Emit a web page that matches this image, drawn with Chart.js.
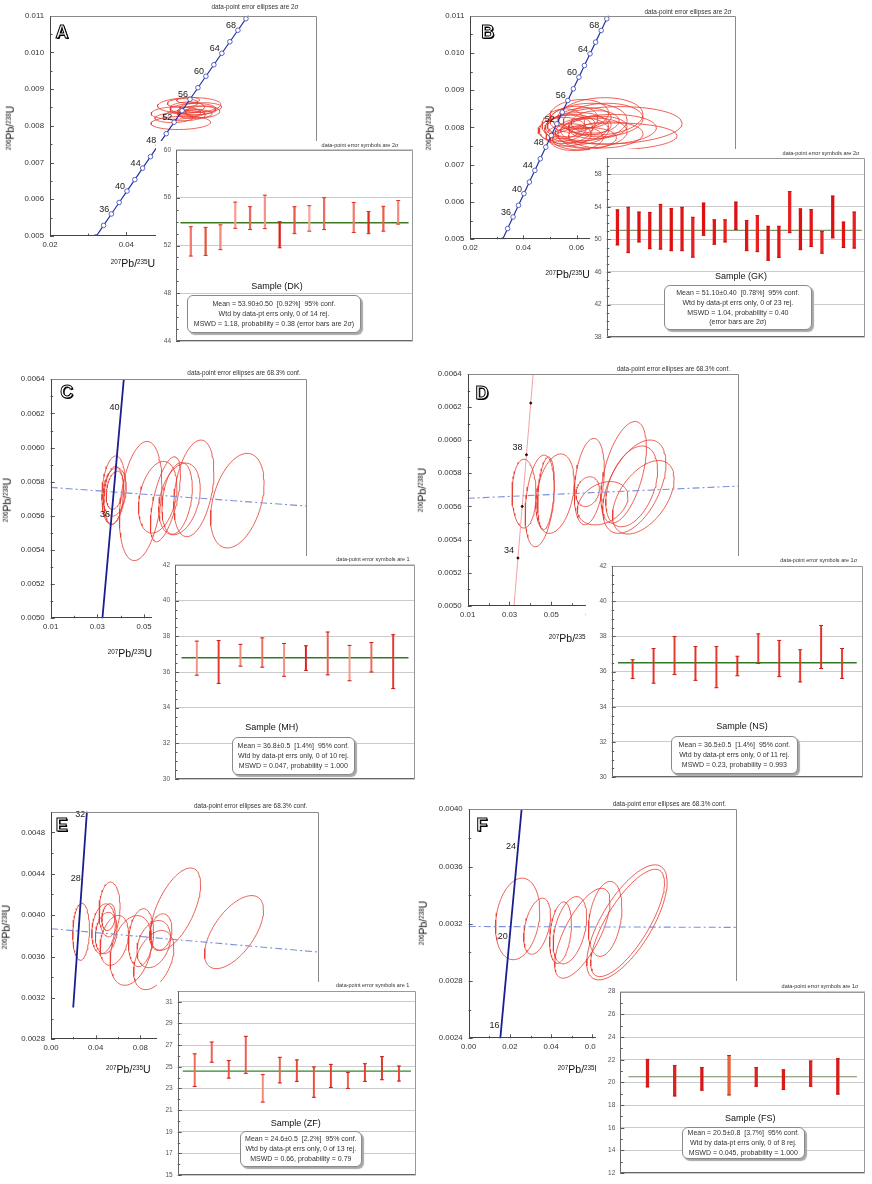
<!DOCTYPE html>
<html>
<head>
<meta charset="utf-8">
<script src="https://cdn.jsdelivr.net/npm/chart.js@4.4.1/dist/chart.umd.min.js"></script>
<style>
body{margin:0;background:#fff;width:872px;height:1184px;position:relative;overflow:hidden;font-family:"Liberation Sans",Arial,sans-serif;}
.t{position:absolute;white-space:nowrap;transform:translate(-50%,-50%);line-height:1;color:#222;}
.note{font-size:6.4px;color:#333;}
.inote{font-size:5.5px;color:#333;}
.lbl{font-size:10.5px;color:#111;}
.lbl sup{font-size:60%;vertical-align:0.5em;line-height:0;}
.rot{transform:translate(-50%,-50%) rotate(-90deg);}
.letter{font-size:18px;font-weight:bold;color:#fff;-webkit-text-stroke:1px #000;text-shadow:1px 1px 0 #000;}
.samp{font-size:9px;color:#111;}
.inset{position:absolute;background:#fff;}
.stats{position:absolute;border:1px solid #8a8a8a;border-radius:6px;background:#fff;box-shadow:2px 2px 1px #a8a8a8;font-size:7px;color:#333;display:flex;flex-direction:column;justify-content:center;align-items:center;line-height:1.4;box-sizing:border-box;white-space:pre;}
</style>
</head>
<body>
<script>
// ---------- concordia ages (Ma) ----------
var concAgesAB = [30,32,34,36,38,40,42,44,46,48,50,52,54,56,58,60,62,64,66,68,70,72];
var concLabelsAB = [36,40,44,48,52,56,60,64,68];
var concAgesCD = [30,32,34,36,38,40,42,44,46];
var concLabelsC = [36,40];
var concMarksD = [34,36,38,40];
var concLabelsD = [34,38];
var concAgesE = [20,22,24,26,28,30,32,34,36];
var concLabelsE = [28,32];
var concAgesF = [12,14,16,18,20,22,24,26,28];
var concLabelsF = [16,20,24];

// ---------- A (DK): error ellipses ----------
var aCx = [0.0543,0.0565,0.0530,0.0575,0.0560,0.0585,0.0552,0.0595,0.0548,0.0570,0.0525,0.0600,0.0562,0.0580];
var aCy = [0.00808,0.00856,0.00835,0.00845,0.00850,0.00842,0.00828,0.00850,0.00862,0.00835,0.00822,0.00838,0.00870,0.00832];
var aSx = [0.0078,0.0083,0.0065,0.0060,0.0045,0.0050,0.0055,0.0055,0.0040,0.0035,0.0050,0.0045,0.0030,0.0045];
var aSy = [0.00018,0.00021,0.00017,0.00016,0.00015,0.00012,0.00014,0.00013,0.00012,0.00011,0.00013,0.00016,0.00008,0.00012];
var aRho = [0.1,0.1,0.1,0.1,0.1,0.1,0.1,0.1,0.1,0.1,0.1,0.1,0.1,0.1];
var aHi = [53.57,53.52,53.73,55.63,55.25,56.21,54.00,55.25,55.33,56.00,null,55.60,54.85,55.28,55.76];
var aLo = [51.12,51.17,51.65,53.44,53.33,53.41,51.81,52.99,53.20,53.33,null,53.09,52.99,53.20,53.79];
var aMean = 53.90;

// ---------- B (GK) ----------
var bCx = [0.0740,0.0739,0.0640,0.0600,0.0620,0.0580,0.0660,0.0560,0.0700,0.0680,0.0590,0.0630,0.0550,0.0720,0.0610,0.0650,0.0570,0.0690,0.0600,0.0670,0.0545,0.0710,0.0630];
var bCy = [0.00806,0.00776,0.00815,0.00800,0.00790,0.00805,0.00785,0.00795,0.00820,0.00800,0.00822,0.00770,0.00810,0.00795,0.00835,0.00805,0.00780,0.00830,0.00770,0.00815,0.00795,0.00780,0.00825];
var bSx = [0.0257,0.0239,0.0150,0.0120,0.0100,0.0090,0.0130,0.0100,0.0150,0.0110,0.0090,0.0120,0.0080,0.0180,0.0110,0.0080,0.0085,0.0160,0.0100,0.0090,0.0090,0.0140,0.0100];
var bSy = [0.00050,0.00036,0.00050,0.00040,0.00035,0.00030,0.00040,0.00038,0.00045,0.00030,0.00035,0.00030,0.00040,0.00040,0.00040,0.00025,0.00030,0.00050,0.00032,0.00030,0.00032,0.00035,0.00028];
var bRho = [0.1,0.05,0.1,0.1,0.1,0.1,0.1,0.1,0.1,0.1,0.1,0.1,0.1,0.1,0.1,0.1,0.1,0.1,0.1,0.1,0.1,0.1,0.1];
var bHi = [53.62,53.94,53.35,53.31,54.29,53.78,53.94,52.71,54.45,52.40,52.40,54.57,52.32,52.91,51.61,51.61,55.87,53.74,53.66,50.98,55.32,52.12,53.35];
var bLo = [49.32,48.37,49.68,48.85,48.81,48.61,48.61,47.82,50.50,49.40,49.68,51.21,48.61,48.49,47.43,47.78,50.82,48.73,49.12,48.30,50.19,49.00,48.93];
var bMean = 51.10;

// ---------- C (MH) ----------
var cCx = [0.03695,0.0374,0.0375,0.0370,0.04857,0.05588,0.05918,0.0642,0.0652,0.07136,0.0900];
var cCy = [0.00575,0.00574,0.00575,0.00572,0.005687,0.005709,0.005697,0.005703,0.005699,0.005761,0.005689];
var cSx = [0.0050,0.0050,0.0037,0.0042,0.0091,0.00824,0.00645,0.0065,0.0089,0.0086,0.01147];
var cSy = [0.000201,0.000142,0.000112,0.00017,0.000349,0.00021,0.000249,0.00021,0.00021,0.000283,0.000277];
var cRho = [0.2,0.2,0.3,0.2,0.3,0.3,0.6,0.3,0.3,0.35,0.37];
var cLineX = [0.01, 0.12];
var cLineY = [0.005767, 0.005657];
var cHi = [37.73,37.76,37.55,37.91,37.60,37.47,38.24,37.49,37.65,38.09];
var cLo = [35.82,35.36,36.33,36.27,35.76,36.09,35.84,35.51,36.00,35.07];
var cMean = 36.8;

// ---------- D (NS) ----------
var dCx = [0.03695,0.04445,0.05179,0.04748,0.06821,0.06742,0.0746,0.08464,0.08974,0.08847,0.09405];
var dCy = [0.005677,0.005633,0.005677,0.005679,0.00575,0.005689,0.005619,0.005806,0.005719,0.005721,0.005655];
var dSx = [0.00574,0.00694,0.00917,0.0040,0.00718,0.0056,0.0121,0.0109,0.01515,0.0124,0.01475];
var dSy = [0.000208,0.000277,0.00024,0.00022,0.000261,0.00009,0.000131,0.000307,0.000282,0.000244,0.000222];
var dRho = [0.0,0.3,0.3,0.3,0.3,0.2,0.3,0.5,0.5,0.4,0.5];
var dLineX = [0.01, 0.14];
var dLineY = [0.005649, 0.005723];
var dHi = [36.67,37.31,37.99,37.42,37.42,36.87,38.14,37.77,37.24,38.62,37.31];
var dLo = [35.61,35.34,35.83,35.50,35.08,35.76,36.46,35.71,35.41,36.17,35.61];
var dMean = 36.5;

// ---------- E (ZF) ----------
var eCx = [0.02697,0.05243,0.04704,0.04944,0.05663,0.07161,0.0806,0.09199,0.09199,0.09828,0.11146,0.1639,0.05154];
var eCy = [0.003839,0.004055,0.003868,0.003827,0.003756,0.003659,0.003782,0.003566,0.00372,0.003836,0.004058,0.003836,0.003981];
var eSx = [0.0075,0.00944,0.0105,0.0097,0.01273,0.0187,0.01124,0.018,0.015,0.01,0.0225,0.0264,0.006];
var eSy = [0.000276,0.000265,0.000241,0.0002,0.000241,0.000337,0.00028,0.000286,0.000228,0.000177,0.000398,0.000353,0.00013];
var eRho = [0.1,0.1,0.2,0.2,0.3,0.3,0.2,0.4,0.3,0.2,0.6,0.6,0.2];
var eLineX = [0.0, 0.24];
var eLineY = [0.003869, 0.003643];
var eHi = [26.19,27.28,25.57,27.81,24.27,25.87,25.63,24.98,25.22,24.48,25.28,25.93,25.07];
var eLo = [23.18,25.42,23.95,24.39,21.74,23.51,23.65,22.18,23.09,23.00,23.65,23.80,23.68];
var eMean = 24.6;

// ---------- F (FS) ----------
var fCx = [0.02374,0.03317,0.04455,0.0491,0.05512,0.06618,0.07675,0.07707];
var fCy = [0.003234,0.003183,0.003138,0.003155,0.003134,0.003234,0.00321,0.003206];
var fSx = [0.01073,0.0065,0.00528,0.00813,0.0134,0.00813,0.0195,0.0179];
var fSy = [0.000285,0.000196,0.000215,0.000235,0.000314,0.000262,0.000402,0.000375];
var fRho = [0.2,0.4,0.3,0.4,0.7,0.3,0.7,0.75];
var fLineX = [0.0, 0.13];
var fLineY = [0.003181, 0.003175];
var fHi = [22.03,21.49,21.31,22.37,21.31,21.11,21.89,22.11];
var fLo = [19.60,18.80,19.31,18.89,19.66,19.37,19.66,18.97];
var fMean = 20.5;

// ---------- helpers ----------
var FONT = '"Liberation Sans", Arial, sans-serif';
var LAM238 = 1.55125e-10, LAM235 = 9.8485e-10;

function conc(age) {
    return {x: Math.expm1(LAM235 * age * 1e6), y: Math.expm1(LAM238 * age * 1e6)};
}

function ellipsePts(cx, cy, sx, sy, rho) {
    var pts = [], k = Math.sqrt(1 - rho * rho);
    for (var i = 0; i <= 72; i++) {
        var t = i / 72 * 2 * Math.PI;
        pts.push({x: cx + sx * Math.cos(t), y: cy + sy * (rho * Math.cos(t) + k * Math.sin(t))});
    }
    return pts;
}

function isMaj(v, base, step) {
    var r = (v - base) / step;
    return Math.abs(r - Math.round(r)) < 1e-6;
}

function txt(html, x, y, cls) {
    var d = document.createElement('div');
    d.className = 't ' + cls;
    d.innerHTML = html;
    d.style.left = x + 'px';
    d.style.top = y + 'px';
    document.body.appendChild(d);
}

function statsBox(lines, b) {
    var d = document.createElement('div');
    d.className = 'stats';
    d.style.left = b[0] + 'px'; d.style.top = b[1] + 'px';
    d.style.width = (b[2] - b[0]) + 'px'; d.style.height = (b[3] - b[1]) + 'px';
    lines.forEach(function (l) {
        var s = document.createElement('div');
        s.textContent = l;
        d.appendChild(s);
    });
    document.body.appendChild(d);
}

function makeDeco(o) {
    return {
        id: 'deco',
        afterDatasetsDraw: function (chart) {
            if (!o.ages) return;
            var ctx = chart.ctx, sx = chart.scales.x, sy = chart.scales.y;
            ctx.save();
            ctx.font = '9px ' + FONT;
            ctx.fillStyle = '#1a1a1a';
            ctx.textAlign = 'right';
            ctx.textBaseline = 'middle';
            o.ages.forEach(function (t) {
                var p = conc(t);
                ctx.fillText(String(t), sx.getPixelForValue(p.x) + o.dx, sy.getPixelForValue(p.y) + o.dy);
            });
            ctx.restore();
        },
        afterDraw: function (chart) {
            var ctx = chart.ctx, a = chart.chartArea, sc = chart.scales;
            ctx.save();
            ctx.lineWidth = 1;
            ctx.strokeStyle = o.tick;
            sc.y.ticks.forEach(function (t) {
                var py = Math.round(sc.y.getPixelForValue(t.value)) + 0.5;
                var len = isMaj(t.value, o.yb, o.ym) ? 4 : 2.5;
                ctx.beginPath(); ctx.moveTo(a.left, py); ctx.lineTo(a.left + len, py); ctx.stroke();
            });
            if (o.xTicks) {
                sc.x.ticks.forEach(function (t) {
                    var px = Math.round(sc.x.getPixelForValue(t.value)) + 0.5;
                    var len = isMaj(t.value, o.xb, o.xm) ? 4 : 2.5;
                    ctx.beginPath(); ctx.moveTo(px, a.bottom); ctx.lineTo(px, a.bottom - len); ctx.stroke();
                });
            }
            var L = Math.round(a.left) + 0.5, T = Math.round(a.top) + 0.5,
                R = Math.round(a.right) - 0.5, B = Math.round(a.bottom) - 0.5;
            ctx.strokeStyle = o.frame;
            ctx.beginPath(); ctx.moveTo(L, T); ctx.lineTo(R, T); ctx.lineTo(R, B); ctx.stroke();
            ctx.strokeStyle = o.axis;
            ctx.beginPath(); ctx.moveTo(L, T); ctx.lineTo(L, B); ctx.lineTo(R, B); ctx.stroke();
            ctx.restore();
        }
    };
}

function ellipseSets(cx, cy, sx, sy, rho) {
    return cx.map(function (_, i) {
        return {data: ellipsePts(cx[i], cy[i], sx[i], sy[i], rho[i]), showLine: true,
                borderColor: '#e8392d', borderWidth: 0.8, pointRadius: 0, order: 5};
    });
}

function dashedSet(xs, ys) {
    return {data: xs.map(function (x, i) { return {x: x, y: ys[i]}; }), showLine: true,
            borderColor: '#7d8fd8', borderWidth: 1.1, borderDash: [7, 3, 2, 3], pointRadius: 0, order: 2};
}

function concSet(ages, st) {
    return {data: ages.map(conc), showLine: true, borderColor: st.color, borderWidth: st.width,
            pointRadius: st.r || 0, pointBackgroundColor: st.fill || '#fff', pointBorderColor: st.pcolor || st.color,
            pointBorderWidth: 0.8, order: 1};
}

function mainChart(g, sets, ages, dx, dy) {
    var left = Math.floor(g.L - 52), top = Math.floor(g.T - 14),
        right = Math.ceil(g.R + 14), bottom = Math.ceil(g.B + 30);
    var cv = document.createElement('canvas');
    cv.width = right - left; cv.height = bottom - top;
    cv.style.cssText = 'position:absolute;left:' + left + 'px;top:' + top + 'px;';
    document.body.appendChild(cv);
    new Chart(cv, {
        type: 'scatter',
        data: {datasets: sets},
        options: {
            responsive: false, animation: false, events: [],
            layout: {padding: {left: 0, top: g.T - top, right: right - g.R, bottom: 0}},
            plugins: {legend: {display: false}, tooltip: {enabled: false}},
            scales: {
                x: {type: 'linear', min: g.x[0], max: g.x[1],
                    afterFit: function (s) { s.height = bottom - g.B; },
                    ticks: {stepSize: g.x[2], autoSkip: false, maxRotation: 0, padding: 4, color: '#333',
                            font: {family: FONT, size: 7.8},
                            callback: function (v) { return isMaj(v, g.x[3], g.x[4]) ? v.toFixed(g.x[5]) : ''; }},
                    grid: {display: false, drawTicks: false}, border: {display: false}},
                y: {type: 'linear', min: g.y[0], max: g.y[1],
                    afterFit: function (s) { s.width = g.L - left; },
                    ticks: {stepSize: g.y[2], autoSkip: false, padding: 6, color: '#333',
                            font: {family: FONT, size: 7.8},
                            callback: function (v) { return isMaj(v, g.y[3], g.y[4]) ? v.toFixed(g.y[5]) : ''; }},
                    grid: {display: false, drawTicks: false}, border: {display: false}}
            }
        },
        plugins: [makeDeco({ages: ages, dx: dx, dy: dy, tick: '#555', frame: '#8a8a8a', axis: '#444',
                            xTicks: true, xb: g.x[3], xm: g.x[4], yb: g.y[3], ym: g.y[4]})]
    });
}

function insetChart(g, lo, hi, mean, st) {
    var n = lo.length;
    var box = document.createElement('div');
    box.className = 'inset';
    var cl = Math.round(g.c[0]), ct = Math.round(g.c[1]), cr = Math.round(g.c[2]), cb = Math.round(g.c[3]);
    box.style.cssText = 'left:' + cl + 'px;top:' + ct + 'px;width:' + (cr - cl) + 'px;height:' + (cb - ct) + 'px;';
    var cv = document.createElement('canvas');
    cv.width = cr - cl; cv.height = cb - ct;
    box.appendChild(cv);
    document.body.appendChild(box);
    var bars = [], tops = [], bots = [];
    lo.forEach(function (v, i) {
        if (v === null) return;
        bars.push({x: i + 1, y: [v, hi[i]]});
        tops.push({x: i + 1, y: hi[i]});
        bots.push({x: i + 1, y: v});
    });
    var colors = bars.map(function (b, i) { return st.colors[i % st.colors.length]; });
    var capSet = function (d) {
        return {type: 'line', data: d, showLine: false, pointStyle: 'line', pointRadius: st.cap,
                pointBorderWidth: 1, pointBorderColor: st.capColor, borderColor: st.capColor, order: 1};
    };
    new Chart(cv, {
        type: 'bar',
        data: {datasets: [
            {type: 'bar', data: bars, backgroundColor: colors, borderWidth: 0, barThickness: st.bw, order: 2},
            capSet(tops), capSet(bots),
            {type: 'line', data: [{x: 0.3, y: mean}, {x: n + 0.7, y: mean}], borderColor: st.mean,
             borderWidth: st.mw, pointRadius: 0, order: 3}
        ]},
        options: {
            responsive: false, animation: false, events: [],
            layout: {padding: {left: 0, top: g.T - ct, right: cr - g.R, bottom: cb - g.B}},
            plugins: {legend: {display: false}, tooltip: {enabled: false}},
            scales: {
                x: {type: 'linear', min: 0, max: n + 1, offset: false, display: false},
                y: {type: 'linear', min: g.y[0], max: g.y[1],
                    afterFit: function (s) { s.width = g.L - cl; },
                    ticks: {stepSize: g.y[2], autoSkip: false, padding: 5, color: '#555',
                            font: {family: FONT, size: 6.5},
                            callback: function (v) { return isMaj(v, g.y[3], g.y[4]) ? String(v) : ''; }},
                    grid: {drawTicks: false, lineWidth: 1,
                           color: function (c) { return c.tick && isMaj(c.tick.value, g.y[3], g.y[4]) ? '#cbcbcb' : 'rgba(0,0,0,0)'; }},
                    border: {display: false}}
            }
        },
        plugins: [makeDeco({tick: '#555', frame: '#999', axis: '#666', xTicks: false, yb: g.y[3], ym: g.y[4]})]
    });
}

var Y206 = '<sup>206</sup>Pb/<sup>238</sup>U';
var X207 = '<sup>207</sup>Pb/<sup>235</sup>U';

function panel(p) {
    mainChart(p.g, p.sets, p.ages, p.dx, p.dy);
    txt(p.letter, p.pos.letter[0], p.pos.letter[1], 'letter');
    txt(p.title, p.pos.title[0], p.pos.title[1], 'note');
    txt(X207, p.pos.xl[0], p.pos.xl[1], 'lbl');
    txt(Y206, p.pos.yl[0], p.pos.yl[1], 'lbl rot');
    insetChart(p.ig, p.lo, p.hi, p.mean, p.st);
    txt(p.ititle, p.pos.it[0], p.pos.it[1], 'inote');
    txt(p.sample, p.pos.s[0], p.pos.s[1], 'samp');
    statsBox(p.stats, p.pos.box);
}

var blueMk = {color: '#2433a6', width: 1.2, r: 2.3, fill: '#fff', pcolor: '#3342b0'};
var blueSolid = {color: '#1a1f8f', width: 1.8};

// ---------- A ----------
panel({
    g: {L: 50, T: 15.7, R: 317, B: 236, x: [0.02, 0.09, 0.01, 0.02, 0.02, 2], y: [0.005, 0.011, 0.0005, 0.005, 0.001, 3]},
    sets: ellipseSets(aCx, aCy, aSx, aSy, aRho).concat([concSet(concAgesAB, blueMk)]),
    ages: concLabelsAB, dx: -2, dy: -4.5,
    letter: 'A', title: 'data-point error ellipses are 2σ',
    ig: {c: [156, 141, 418, 350], L: 176, T: 149, R: 414, B: 347, y: [44, 60, 1, 44, 4]},
    lo: aLo, hi: aHi, mean: aMean,
    st: {colors: ['#f07b6b','#e4563f','#f08a7a','#f4a090','#e86a5a','#f39486','#e21c1c','#e55a48','#f6aaa0','#e8705f','#ef7c6c','#e02a20','#e76150','#f28d80'],
         bw: 1.6, cap: 2, capColor: '#e03020', mean: '#3c7a22', mw: 1.5},
    ititle: 'data-point error symbols are 2σ', sample: 'Sample (DK)',
    stats: ['Mean = 53.90±0.50  [0.92%]  95% conf.', 'Wtd by data-pt errs only, 0 of 14 rej.', 'MSWD = 1.18, probability = 0.38 (error bars are 2σ)'],
    pos: {letter: [62, 32], title: [255, 7], xl: [133, 263], yl: [10, 128], it: [360, 146], s: [277, 286], box: [187, 295, 361, 333]}
});

// ---------- B ----------
panel({
    g: {L: 470.3, T: 15.7, R: 736, B: 239.3, x: [0.02, 0.12, 0.01, 0.02, 0.02, 2], y: [0.005, 0.011, 0.0005, 0.005, 0.001, 3]},
    sets: ellipseSets(bCx, bCy, bSx, bSy, bRho).concat([concSet(concAgesAB, blueMk)]),
    ages: concLabelsAB, dx: -2, dy: -4.5,
    letter: 'B', title: 'data-point error ellipses are 2σ',
    ig: {c: [590, 149, 870, 346], L: 606.7, T: 157.3, R: 866, B: 343, y: [38, 60, 1, 38, 4]},
    lo: bLo, hi: bHi, mean: bMean,
    st: {colors: ['#e31414', '#e82020', '#dd1010'], bw: 2.6, cap: 1.8, capColor: '#d01010', mean: '#7f9666', mw: 1.3},
    ititle: 'data-point error symbols are 2σ', sample: 'Sample (GK)',
    stats: ['Mean = 51.10±0.40  [0.78%]  95% conf.', 'Wtd by data-pt errs only, 0 of 23 rej.', 'MSWD = 1.04, probability = 0.40', '(error bars are 2σ)'],
    pos: {letter: [487.7, 31.7], title: [688, 11.7], xl: [567.7, 274], yl: [430, 128], it: [821, 154], s: [741, 275.7], box: [664, 285, 811.7, 330]}
});

// ---------- C ----------
panel({
    g: {L: 50.7, T: 379.3, R: 307.3, B: 618.3, x: [0.01, 0.12, 0.01, 0.01, 0.02, 2], y: [0.005, 0.0064, 0.0001, 0.005, 0.0002, 4]},
    sets: ellipseSets(cCx, cCy, cSx, cSy, cRho).concat([dashedSet(cLineX, cLineY), concSet(concAgesCD, blueSolid)]),
    ages: concLabelsC, dx: -1.5, dy: -1.5,
    letter: 'C', title: 'data-point error ellipses are 68.3% conf.',
    ig: {c: [152, 556, 420, 788], L: 175, T: 564.3, R: 415, B: 784.3, y: [30, 42, 0.5, 30, 2]},
    lo: cLo, hi: cHi, mean: cMean,
    st: {colors: ['#f29585','#e53a30','#f08a7a','#ee7060','#f29080','#e02020','#e86050','#f39a8a','#ee6a5a','#e43a30'],
         bw: 1.3, cap: 2, capColor: '#d41a1a', mean: '#2e7a2a', mw: 1.6},
    ititle: 'data-point error symbols are 1', sample: 'Sample (MH)',
    stats: ['Mean = 36.8±0.5  [1.4%]  95% conf.', 'Wtd by data-pt errs only, 0 of 10 rej.', 'MSWD = 0.047, probability = 1.000'],
    pos: {letter: [66.7, 391.7], title: [244, 373.3], xl: [130, 652.7], yl: [6.7, 500], it: [373, 560], s: [271.7, 726.7], box: [231.7, 736.7, 355, 775]}
});

// ---------- D ----------
panel({
    g: {L: 467.7, T: 374, R: 739.3, B: 605.7, x: [0.01, 0.14, 0.01, 0.01, 0.02, 2], y: [0.005, 0.0064, 0.0001, 0.005, 0.0002, 4]},
    sets: ellipseSets(dCx, dCy, dSx, dSy, dRho).concat([dashedSet(dLineX, dLineY),
          concSet(concAgesCD, {color: '#f08c8c', width: 0.8}),
          {data: concMarksD.map(conc), showLine: false, pointRadius: 1, pointBackgroundColor: '#111', pointBorderColor: '#111', order: 0}]),
    ages: concLabelsD, dx: -4, dy: -7,
    letter: 'D', title: 'data-point error ellipses are 68.3% conf.',
    ig: {c: [586, 556, 868, 786], L: 611.7, T: 566, R: 863.7, B: 782.7, y: [30, 42, 0.5, 30, 2]},
    lo: dLo, hi: dHi, mean: dMean,
    st: {colors: ['#e8392d', '#e43226'], bw: 1.3, cap: 2, capColor: '#d41a1a', mean: '#2e7a2a', mw: 1.6},
    ititle: 'data-point error symbols are 1σ', sample: 'Sample (NS)',
    stats: ['Mean = 36.5±0.5  [1.4%]  95% conf.', 'Wtd by data-pt errs only, 0 of 11 rej.', 'MSWD = 0.23, probability = 0.993'],
    pos: {letter: [482, 393.3], title: [673.3, 368.7], xl: [571, 637.7], yl: [421.7, 490], it: [818.7, 561], s: [742, 725.7], box: [671, 735.7, 797.7, 774]}
});

// ---------- E ----------
panel({
    g: {L: 51, T: 811.7, R: 319, B: 1039.3, x: [0, 0.24, 0.02, 0, 0.04, 2], y: [0.0028, 0.0050, 0.0002, 0.0028, 0.0004, 4]},
    sets: ellipseSets(eCx, eCy, eSx, eSy, eRho).concat([dashedSet(eLineX, eLineY), concSet(concAgesE, blueSolid)]),
    ages: concLabelsE, dx: -1.5, dy: 0,
    letter: 'E', title: 'data-point error ellipses are 68.3% conf.',
    ig: {c: [157, 982, 421, 1184], L: 177.7, T: 990, R: 417, B: 1182, y: [15, 32, 1, 15, 2]},
    lo: eLo, hi: eHi, mean: eMean,
    st: {colors: ['#ef6a5a','#ee6050','#ea5545','#ee5d4d','#f28b7b','#ee6050','#e84a3a','#ee5040','#e84032','#ee6052','#e84232','#e23a2a','#e84a3a'],
         bw: 1.3, cap: 2, capColor: '#d41a1a', mean: '#2e8a22', mw: 1.4},
    ititle: 'data-point error symbols are 1', sample: 'Sample (ZF)',
    stats: ['Mean = 24.6±0.5  [2.2%]  95% conf.', 'Wtd by data-pt errs only, 0 of 13 rej.', 'MSWD = 0.66, probability = 0.79'],
    pos: {letter: [61.7, 825], title: [250.7, 806], xl: [128.3, 1069.3], yl: [6, 926.7], it: [372.7, 986], s: [295.7, 1122.7], box: [240, 1131, 361.7, 1166.7]}
});

// ---------- F ----------
panel({
    g: {L: 468.7, T: 809.3, R: 736.7, B: 1038.3, x: [0, 0.13, 0.01, 0, 0.02, 2], y: [0.0024, 0.0040, 0.0002, 0.0024, 0.0004, 4]},
    sets: ellipseSets(fCx, fCy, fSx, fSy, fRho).concat([dashedSet(fLineX, fLineY), concSet(concAgesF, blueSolid)]),
    ages: concLabelsF, dx: -2, dy: -1,
    letter: 'F', title: 'data-point error ellipses are 68.3% conf.',
    ig: {c: [596, 981, 870, 1182], L: 620.3, T: 991.7, R: 866, B: 1178.3, y: [12, 28, 1, 12, 2]},
    lo: fLo, hi: fHi, mean: fMean,
    st: {colors: ['#d81c1c','#dd2020','#d81818','#e8603a','#dd2222','#d81c1c','#e02222','#dd1818'],
         bw: 2.6, cap: 1.8, capColor: '#c81414', mean: '#6f8a60', mw: 1.2},
    ititle: 'data-point error symbols are 1σ', sample: 'Sample (FS)',
    stats: ['Mean = 20.5±0.8  [3.7%]  95% conf.', 'Wtd by data-pt errs only, 0 of 8 rej.', 'MSWD = 0.045, probability = 1.000'],
    pos: {letter: [482, 825], title: [669.3, 804.3], xl: [580, 1069.3], yl: [423.3, 923], it: [820, 987], s: [750.3, 1117.7], box: [681.7, 1126.7, 805, 1159.3]}
});
</script>
</body>
</html>
